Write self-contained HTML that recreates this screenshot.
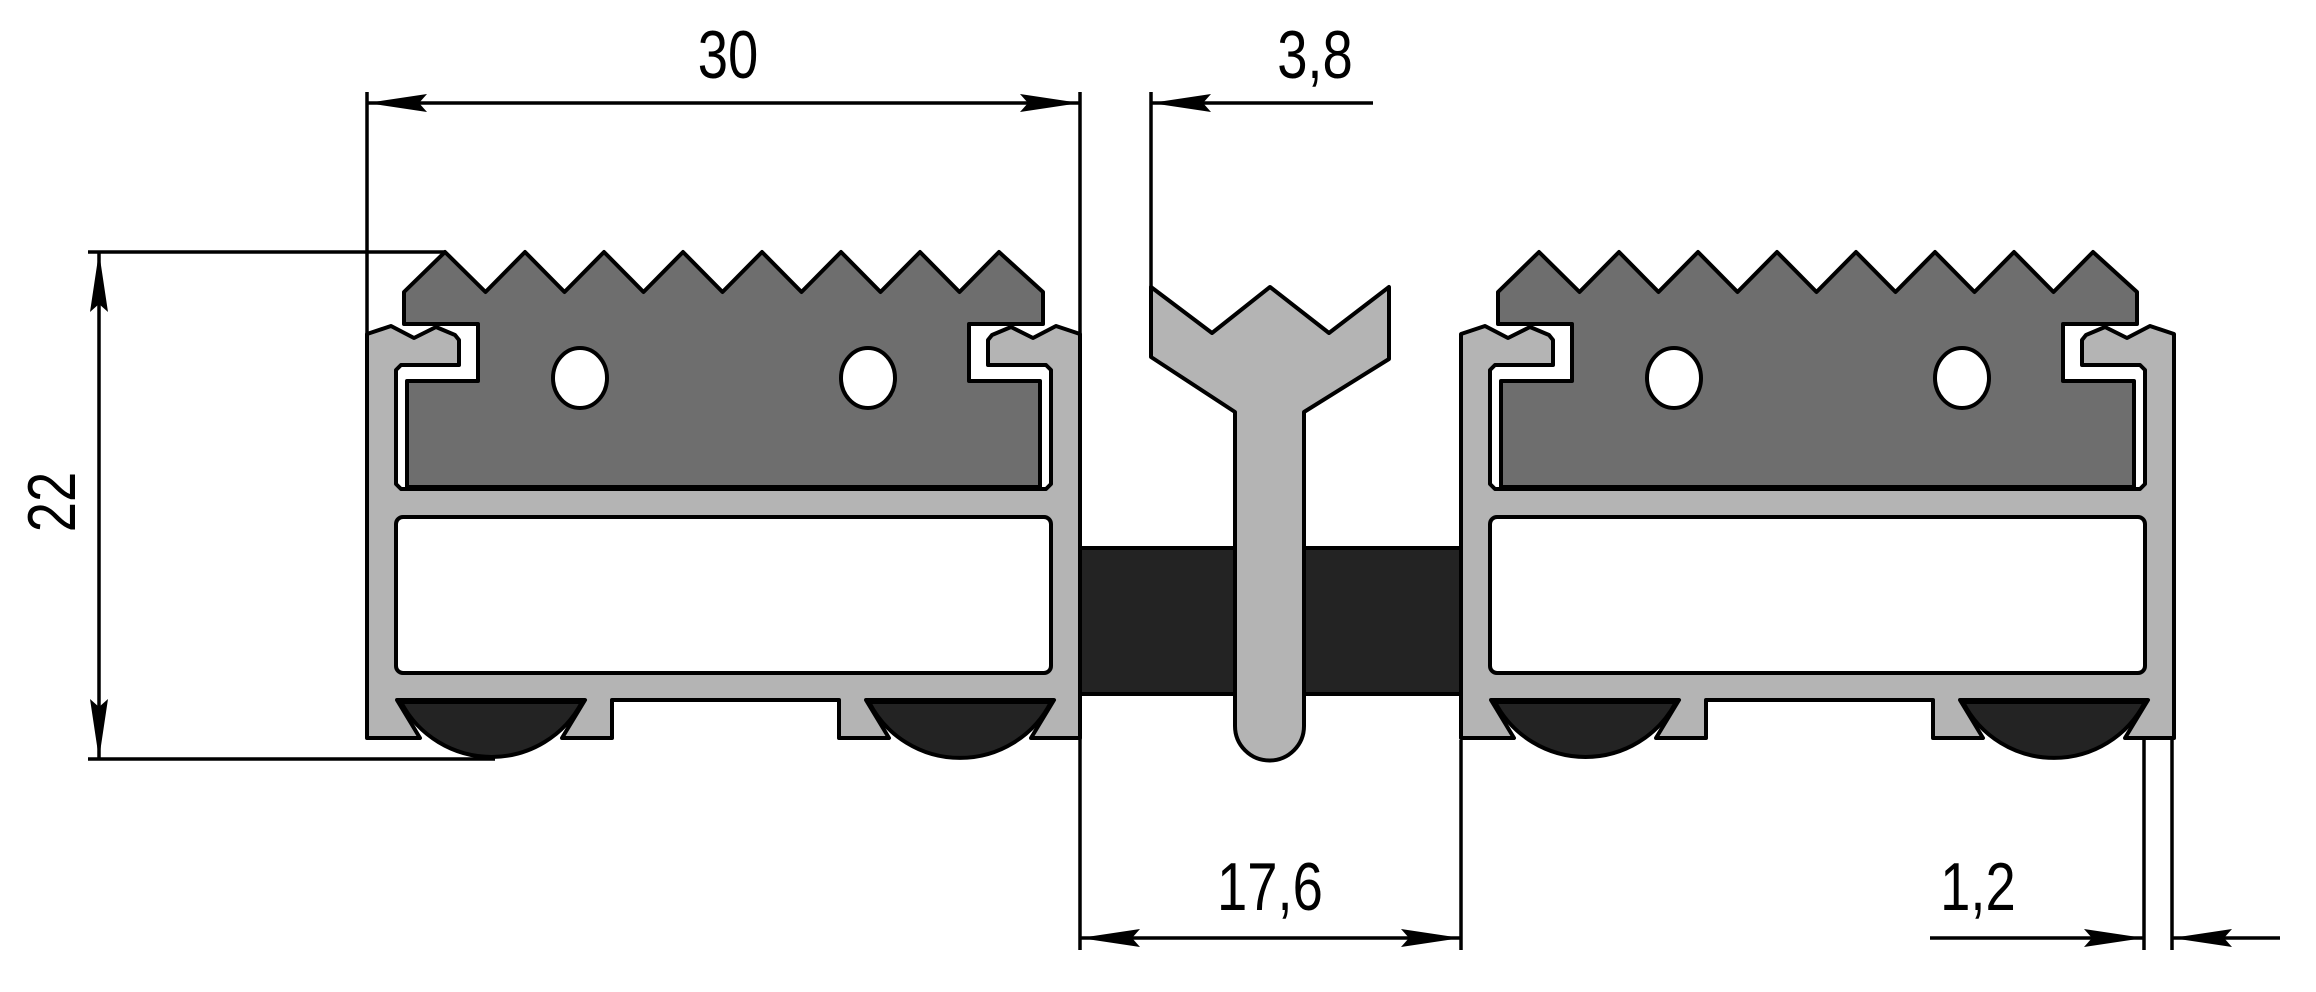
<!DOCTYPE html>
<html><head><meta charset="utf-8"><style>
html,body{margin:0;padding:0;background:#fff;}
svg{display:block;}
text{font-family:"Liberation Sans",sans-serif;font-size:68px;fill:#000;}
</style></head><body>
<svg width="2316" height="992" viewBox="0 0 2316 992" xmlns="http://www.w3.org/2000/svg">
<defs>
<g id="prof">
  <path d="M367,738 L367,334 L391,326 L414,338 L436,327 L455,335 L459,340 L459,365 L401,365 L396,370 L396,484 L401,489 L1046,489 L1051,484 L1051,370 L1046,365 L988,365 L988,340 L992,335 L1011,327 L1033,338 L1056,326 L1080,334 L1080,738 L1031,738 L1054,700 L866,700 L889,738 L839,738 L839,700 L612,700 L612,738 L562,738 L585,700 L397,700 L420,738 Z" fill="#b4b4b4" stroke="#000" stroke-width="4" stroke-linejoin="round"/>
  <rect x="396" y="517" width="655" height="156" rx="7" fill="#fff" stroke="#000" stroke-width="4"/>
  <path d="M404,292 L404,324 L478,324 L478,381 L407,381 L407,487 L1040,487 L1040,381 L969,381 L969,324 L1043,324 L1043,292 L999,252 L959.5,292 L920,252 L880.5,292 L841,252 L801.5,292 L762,252 L722.5,292 L683,252 L643.5,292 L604,252 L564.5,292 L525,252 L485.5,292 L445,252 Z" fill="#6e6e6e" stroke="#000" stroke-width="4" stroke-linejoin="round"/>
  <ellipse cx="580" cy="378" rx="27" ry="30" fill="#fff" stroke="#000" stroke-width="4"/>
  <ellipse cx="868" cy="378" rx="27" ry="30" fill="#fff" stroke="#000" stroke-width="4"/>
  <path d="M401,702 L582,702 A102,102 0 0 1 401,702 Z" fill="#232323" stroke="#000" stroke-width="4"/>
  <path d="M869,702 L1051,702 A102,102 0 0 1 869,702 Z" fill="#232323" stroke="#000" stroke-width="4"/>
</g>
<path id="arr" d="M0,0 L-60,-9 L-52,0 L-60,9 Z" fill="#000"/>
</defs>

<rect x="1080" y="548" width="381" height="146" fill="#232323" stroke="#000" stroke-width="4"/>
<path d="M1151,287 L1212,333 L1270,287 L1329,333 L1389,287 L1389,359 L1304,412 L1304,726 A34.5,34.5 0 0 1 1235,726 L1235,412 L1151,357 Z" fill="#b4b4b4" stroke="#000" stroke-width="4" stroke-linejoin="round"/>

<use href="#prof"/>
<use href="#prof" transform="translate(1094,0)"/>

<g stroke="#000" stroke-width="3.5" fill="none">
  <line x1="367" y1="92" x2="367" y2="334"/>
  <line x1="1080" y1="92" x2="1080" y2="950"/>
  <line x1="367" y1="103" x2="1080" y2="103"/>
  <line x1="1151" y1="92" x2="1151" y2="287"/>
  <line x1="1151" y1="103" x2="1373" y2="103"/>
  <line x1="88" y1="252" x2="445" y2="252"/>
  <line x1="88" y1="759" x2="495" y2="759"/>
  <line x1="99" y1="252" x2="99" y2="759"/>
  <line x1="1461" y1="740" x2="1461" y2="950"/>
  <line x1="1080" y1="938" x2="1461" y2="938"/>
  <line x1="2144" y1="740" x2="2144" y2="950"/>
  <line x1="2172" y1="740" x2="2172" y2="950"/>
  <line x1="1930" y1="938" x2="2144" y2="938"/>
  <line x1="2172" y1="938" x2="2280" y2="938"/>
</g>
<g>
  <use href="#arr" transform="translate(367,103) rotate(180)"/>
  <use href="#arr" transform="translate(1080,103)"/>
  <use href="#arr" transform="translate(1151,103) rotate(180)"/>
  <use href="#arr" transform="translate(99,252) rotate(-90)"/>
  <use href="#arr" transform="translate(99,759) rotate(90)"/>
  <use href="#arr" transform="translate(1080,938) rotate(180)"/>
  <use href="#arr" transform="translate(1461,938)"/>
  <use href="#arr" transform="translate(2144,938)"/>
  <use href="#arr" transform="translate(2172,938) rotate(180)"/>
</g>

<text x="728" y="78" text-anchor="middle" transform="translate(728,0) scale(0.8,1) translate(-728,0)">30</text>
<text x="1315" y="78" text-anchor="middle" transform="translate(1315,0) scale(0.8,1) translate(-1315,0)">3,8</text>
<text x="1270" y="910" text-anchor="middle" transform="translate(1270,0) scale(0.8,1) translate(-1270,0)">17,6</text>
<text x="1978" y="910" text-anchor="middle" transform="translate(1978,0) scale(0.8,1) translate(-1978,0)">1,2</text>
<text x="0" y="0" text-anchor="middle" transform="translate(75,502) rotate(-90) scale(0.8,1)">22</text>
</svg>
</body></html>
